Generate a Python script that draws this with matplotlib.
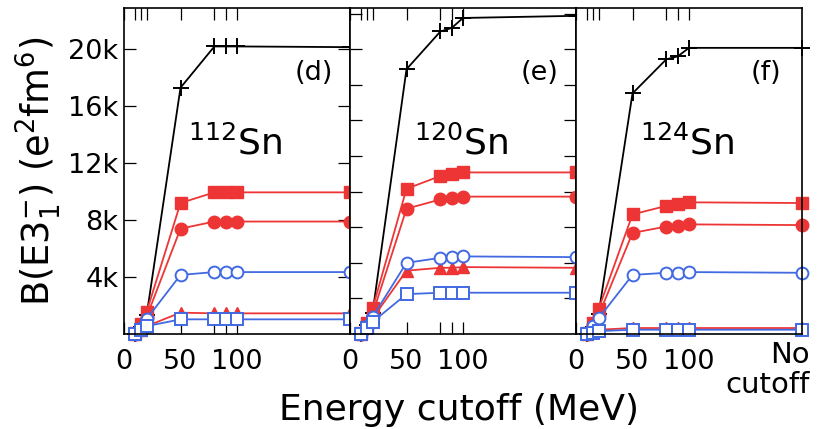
import matplotlib
matplotlib.use('Agg')
import matplotlib.pyplot as plt

# cutoff energies (MeV); the last point is "No cutoff", drawn at the right edge
cutoff = [10, 15, 20, 50, 80, 90, 100, 200]
isotopes = ['112', '120', '124']
panel_tags = ['(d)', '(e)', '(f)']

# B(E3) values (e^2 fm^6), one list per isotope
black_plus = [[0, 500, 1300, 17300, 20200, 20200, 20200, 20150],
              [0, 600, 1500, 18600, 21250, 21500, 22200, 22350],
              [0, 500, 1400, 16900, 19300, 19500, 20100, 20100]]
red_square = [[50, 700, 1550, 9200, 9950, 9950, 9950, 9950],
              [50, 800, 1800, 10200, 11100, 11250, 11350, 11350],
              [50, 800, 1750, 8400, 9000, 9100, 9250, 9200]]
red_circle = [[30, 550, 1200, 7400, 7900, 7900, 7900, 7900],
              [30, 650, 1400, 8800, 9450, 9550, 9650, 9650],
              [30, 650, 1300, 7100, 7550, 7600, 7700, 7650]]
red_triangle = [[10, 300, 550, 1500, 1450, 1450, 1450, 1450],
                [10, 500, 1100, 4450, 4650, 4650, 4700, 4650],
                [10, 200, 300, 420, 420, 420, 420, 420]]
blue_circle = [[20, 450, 1050, 4150, 4350, 4350, 4350, 4350],
               [20, 550, 1200, 5000, 5350, 5400, 5450, 5400],
               [20, 550, 1100, 4150, 4300, 4300, 4350, 4300]]
blue_square = [[0, 300, 550, 1030, 1030, 1030, 1030, 1030],
               [0, 400, 850, 2800, 2900, 2900, 2900, 2900],
               [0, 100, 200, 300, 300, 300, 300, 300]]

xticks = [0, 10, 15, 20, 50, 80, 90, 100]
xticklabels = ['0', '', '', '', '50', '', '', '100']

RED = '#ee3535'
BLUE = '#4169e1'

fig = plt.figure(figsize=(8.2, 4.29), dpi=100)

x0, w = 124 / 820, 226 / 820
bottom, height = 95 / 429, 326 / 429

for i in range(3):
    ax = fig.add_axes([x0 + i * w, bottom, w, height])
    kw = dict(lw=1.3, clip_on=False)
    ax.plot(cutoff, black_plus[i], color='black', marker='+', ms=11, mew=1.4, **kw)
    ax.plot(cutoff, red_square[i], color=RED, marker='s', ms=9, **kw)
    ax.plot(cutoff, red_circle[i], color=RED, marker='o', ms=9, **kw)
    ax.plot(cutoff, red_triangle[i], color=RED, marker='^', ms=8, **kw)
    ax.plot(cutoff, blue_circle[i], color=BLUE, marker='o', ms=8.5, mfc='white', mew=1.4, **kw)
    ax.plot(cutoff, blue_square[i], color=BLUE, marker='s', ms=8.5, mfc='white', mew=1.4, **kw)

    ax.set_xlim(0, 200)
    ax.set_ylim(0, 22900)
    ax.set_xticks(xticks)
    ax.set_xticklabels(xticklabels)
    ax.tick_params(axis='x', direction='in', top=True, length=8.5, width=0.9,
                   labelsize=19.5, pad=11)

    if i == 0:
        ax.set_yticks([4000, 8000, 12000, 16000, 20000])
        ax.set_yticklabels(['4k', '8k', '12k', '16k', '20k'])
        ax.tick_params(axis='y', direction='in', right=True, length=8.5, width=0.9,
                       labelsize=19.5, pad=4)
    elif i == 1:
        ax.set_yticks([2500 * k for k in range(1, 10)])
        ax.tick_params(axis='y', direction='in', right=True, length=8.5, width=0.9,
                       labelleft=False)
    else:
        ax.set_yticks([])

    for s in ax.spines.values():
        s.set_linewidth(1.2)

    ax.text(0.84, 0.8, panel_tags[i], transform=ax.transAxes, fontsize=19.5,
            ha='center', va='center')
    ax.text(0.49, 0.585, r'$^{%s}$Sn' % isotopes[i], transform=ax.transAxes,
            fontsize=26, ha='center', va='center')

    if i == 2:
        ax.text(1.035, -0.02, 'No\ncutoff', transform=ax.transAxes, fontsize=21,
                ha='right', va='top', multialignment='right', linespacing=1.1)

fig.text(459 / 820, 0.021, 'Energy cutoff (MeV)', fontsize=26, ha='center',
         va='baseline')
fig.text(38 / 820, 0.6, r'B(E3$_1^{-}$) (e$^2$fm$^6$)', fontsize=26.5,
         rotation=90, ha='center', va='center')

fig.savefig('out.png', dpi=100)
